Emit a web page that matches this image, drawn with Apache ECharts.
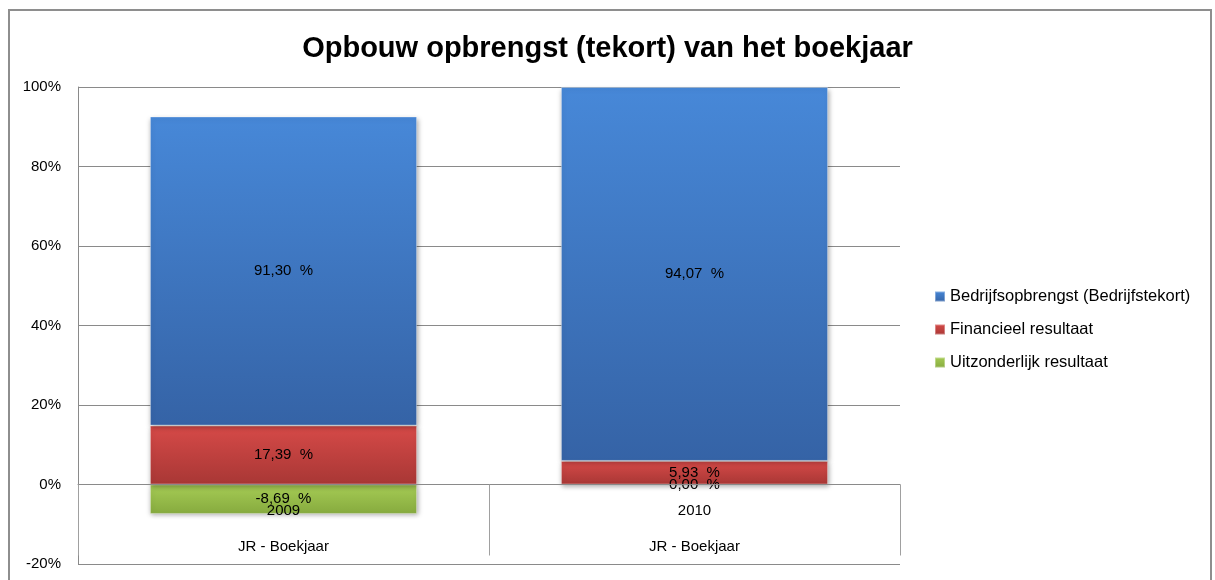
<!DOCTYPE html>
<html>
<head>
<meta charset="utf-8">
<script src="https://cdn.jsdelivr.net/npm/echarts@6/dist/echarts.min.js"></script>
<style>
  html, body { margin: 0; padding: 0; background: #fff; }
  #frame { position: absolute; left: 8px; top: 9px; width: 1204px; height: 600px; border: 2px solid #8e8e8e; box-sizing: border-box; }
  #mychart { position: absolute; left: 0; top: 0; width: 1215px; height: 580px; }
</style>
</head>
<body>
<div id="frame"></div>
<div id="mychart"></div>
<script>
// gegevens uit de grafiek
var years = ['2009', '2010'];
var groupLabel = 'JR - Boekjaar';
var seriesNames = ['Bedrijfsopbrengst (Bedrijfstekort)', 'Financieel resultaat', 'Uitzonderlijk resultaat'];
var bedrijf = [91.30, 94.07];
var financieel = [17.39, 5.93];
var uitzonderlijk = [-8.69, 0.00];
var yTicks = [-20, 0, 20, 40, 60, 80, 100];

// Excel 100%-gestapeld: aandeel t.o.v. som van absolute waarden
var all = [bedrijf, financieel, uitzonderlijk];
var totals = years.map(function (y, i) {
  return all.reduce(function (s, arr) { return s + Math.abs(arr[i]); }, 0);
});
function share(arr) {
  return arr.map(function (v, i) { return { value: v / totals[i] * 100, raw: v }; });
}
function fmt(v) {
  return v.toFixed(2).replace('.', ',') + '  %';
}

function grad(top, bottom) {
  return new echarts.graphic.LinearGradient(0, 0, 0, 1, [
    { offset: 0, color: top }, { offset: 1, color: bottom }
  ]);
}
var colors = [
  grad('#4788d8', '#3563a6'),
  grad('#d64a48', '#a83735'),
  grad('#a6cc55', '#86aa3e')
];
var legendColors = ['#4a7fc8', '#c0403e', '#98bd4b'];

var font = '"Liberation Sans", Arial, sans-serif';
var myChart = echarts.init(document.getElementById('mychart'));

function makeSeries(name, arr, idx) {
  return {
    name: name,
    type: 'bar',
    stack: 'totaal',
    barWidth: '65%',
    data: share(arr),
    itemStyle: {
      color: colors[idx],
      borderColor: 'rgba(255,255,255,0.35)',
      borderWidth: 1,
      shadowColor: 'rgba(0,0,0,0.35)',
      shadowBlur: 5,
      shadowOffsetX: 1,
      shadowOffsetY: 2
    },
    label: {
      show: true,
      position: 'inside',
      color: '#000',
      fontFamily: font,
      fontSize: 15,
      formatter: function (p) { return fmt(p.data.raw); }
    }
  };
}

var option = {
  animation: false,
  color: legendColors,
  title: {
    text: 'Opbouw opbrengst (tekort) van het boekjaar',
    left: 'center',
    top: 29,
    textStyle: { fontFamily: font, fontSize: 29, fontWeight: 'bold', color: '#000' }
  },
  legend: {
    orient: 'vertical',
    left: 929,
    top: 283,
    itemGap: 16,
    itemWidth: 10,
    itemHeight: 10,
    icon: 'rect',
    data: seriesNames,
    textStyle: { fontFamily: font, fontSize: 16.5, color: '#000' }
  },
  grid: { left: 78, right: 315, top: 87, bottom: 16, containLabel: false, outerBoundsMode: 'none' },
  xAxis: {
    type: 'category',
    data: years,
    position: 'bottom',
    offset: -79.5,
    z: 5,
    axisLine: { onZero: false, lineStyle: { color: '#8a8a8a', width: 1 } },
    axisTick: { show: true, interval: 0, length: 71, lineStyle: { color: '#a0a0a0' } },
    axisLabel: {
      interval: 0,
      margin: 8,
      color: '#000',
      fontFamily: font,
      fontSize: 15,
      lineHeight: 36,
      formatter: function (v) { return v + '\n' + groupLabel; }
    }
  },
  yAxis: {
    type: 'value',
    min: yTicks[0],
    max: yTicks[yTicks.length - 1],
    interval: 20,
    axisLine: { show: true, lineStyle: { color: '#8a8a8a' } },
    axisTick: { show: false },
    splitLine: { lineStyle: { color: '#8a8a8a', width: 1 } },
    axisLabel: {
      margin: 17,
      color: '#000',
      fontFamily: font,
      fontSize: 15,
      formatter: '{value}%'
    }
  },
  // groen eerst (nul blijft op de nullijn), dan rood, dan blauw
  series: [
    makeSeries(seriesNames[2], uitzonderlijk, 2),
    makeSeries(seriesNames[1], financieel, 1),
    makeSeries(seriesNames[0], bedrijf, 0)
  ]
};
myChart.setOption(option);
</script>
</body>
</html>
